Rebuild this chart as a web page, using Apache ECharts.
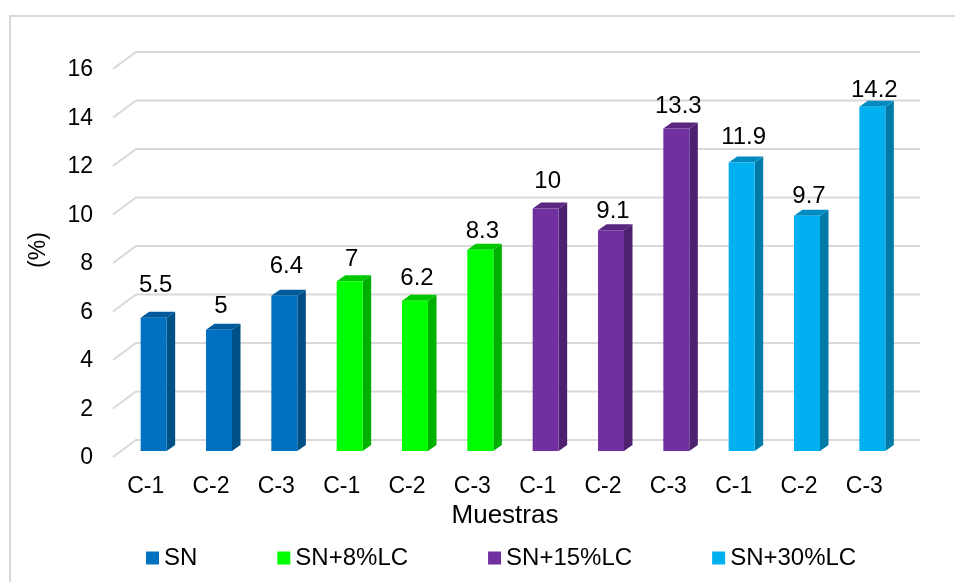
<!DOCTYPE html>
<html>
<head>
<meta charset="utf-8">
<style>html,body{margin:0;padding:0;background:#fff}#chart{width:955px;height:582px}</style>
<script src="https://cdn.jsdelivr.net/npm/echarts@6/dist/echarts.min.js"></script>
</head>
<body>
<div id="chart"></div>
<script>
// Sample labels along the horizontal axis and the ticks of the vertical axis
const categories = ['C-1','C-2','C-3','C-1','C-2','C-3','C-1','C-2','C-3','C-1','C-2','C-3'];
const yTicks = [0,2,4,6,8,10,12,14,16];

// Measured percentages per mixture
const snValues = [5.5,5,6.4];
const sn8Values = [7,6.2,8.3];
const sn15Values = [10,9.1,13.3];
const sn30Values = [11.9,9.7,14.2];

// Height of each value label above its bar's front face, in px
const labelLift = [32,23,29,22,22,18,27,19,22,25,19,16];

const FONT = '"Liberation Sans", Arial, sans-serif';
const TICK_SIZE = 23;
const TEXT_SIZE = 24;
const GRID_COLOR = '#D9D9D9';
const WALL = {dx: 23, dy: -17};    // depth of the chart floor
const BAR_START = {dx: 8, dy: -6}; // where bars sit on the floor
const BAR_DEPTH = {dx: 8.5, dy: -6};
const BAR_WIDTH = 26;

// Grid lines: a diagonal on the side wall, then the run along the back wall
function renderWall(params, api) {
  const cs = params.coordSys;
  const y = api.coord([0, api.value(1)])[1];
  const x0 = cs.x, x1 = cs.x + cs.width;
  return {
    type: 'polyline',
    shape: {points: [[x0, y], [x0 + WALL.dx, y + WALL.dy], [x1 + WALL.dx, y + WALL.dy]]},
    style: {stroke: GRID_COLOR, lineWidth: 2, fill: null},
    silent: true
  };
}

// One 3D column: front, side and top faces plus its value label
function makeBarRenderer(front, side, top) {
  return function (params, api) {
    const idx = api.value(0);
    const val = api.value(1);
    const pTop = api.coord([idx, val]);
    const pBase = api.coord([idx, 0]);
    const l = pTop[0] - BAR_WIDTH / 2 + BAR_START.dx;
    const r = l + BAR_WIDTH;
    const t = pTop[1] + BAR_START.dy;
    const b = pBase[1] + BAR_START.dy;
    const dx = BAR_DEPTH.dx, dy = BAR_DEPTH.dy;
    return {
      type: 'group',
      children: [
        {type: 'polygon', shape: {points: [[r, t], [r + dx, t + dy], [r + dx, b + dy], [r, b]]}, style: {fill: side}},
        {type: 'polygon', shape: {points: [[l, t], [l + dx, t + dy], [r + dx, t + dy], [r, t]]}, style: {fill: top}},
        {type: 'rect', shape: {x: l, y: t, width: BAR_WIDTH, height: b - t}, style: {fill: front}},
        {type: 'text', style: {
          text: String(val), x: (l + r) / 2 + 2, y: t - labelLift[idx],
          align: 'center', verticalAlign: 'middle',
          font: TEXT_SIZE + 'px ' + FONT, fill: '#000'
        }}
      ]
    };
  };
}

function barSeries(name, values, firstIndex, front, side, top) {
  return {
    name: name,
    type: 'custom',
    coordinateSystem: 'cartesian2d',
    renderItem: makeBarRenderer(front, side, top),
    encode: {x: 0, y: 1},
    itemStyle: {color: front},
    data: values.map((v, i) => [firstIndex + i, v]),
    z: 3
  };
}

const seriesNames = ['SN','SN+8%LC','SN+15%LC','SN+30%LC'];
const chart = echarts.init(document.getElementById('chart'), null, {renderer: 'canvas'});
chart.setOption({
  animation: false,
  backgroundColor: '#fff',
  grid: {left: 113, right: 58, top: 69, bottom: 125, containLabel: false},
  xAxis: {
    type: 'category',
    data: categories,
    axisLine: {show: false},
    axisTick: {show: false},
    axisLabel: {interval: 0, margin: 18, color: '#000', fontFamily: FONT, fontSize: TICK_SIZE},
    name: 'Muestras',
    nameLocation: 'middle',
    nameGap: 46,
    nameTextStyle: {color: '#000', fontFamily: FONT, fontSize: 26}
  },
  yAxis: {
    type: 'value',
    min: 0, max: 16, interval: 2,
    axisLine: {show: false},
    axisTick: {show: false},
    splitLine: {show: false},
    axisLabel: {margin: 20, color: '#000', fontFamily: FONT, fontSize: TICK_SIZE, verticalAlign: 'top', lineHeight: 2}
  },
  legend: {
    data: seriesNames,
    left: 146, top: 546, padding: 0,
    icon: 'rect',
    itemWidth: 13, itemHeight: 13, itemGap: 80,
    textStyle: {color: '#000', fontFamily: FONT, fontSize: TEXT_SIZE},
    selectedMode: false
  },
  graphic: [
    {type: 'polyline', silent: true, shape: {points: [[10, 582], [10, 16], [955, 16]]},
     style: {stroke: GRID_COLOR, lineWidth: 2, fill: null}},
    {type: 'text', silent: true, x: 39, y: 250, rotation: Math.PI / 2,
     style: {text: '(%)', align: 'center', verticalAlign: 'middle', font: TICK_SIZE + 'px ' + FONT, fill: '#000'}}
  ],
  series: [
    {
      name: 'walls',
      type: 'custom',
      coordinateSystem: 'cartesian2d',
      renderItem: renderWall,
      encode: {x: 0, y: 1},
      data: yTicks.map(v => [0, v]),
      z: 1,
      silent: true
    },
    barSeries('SN', snValues, 0, '#0070C0', '#004F85', '#005A9B'),
    barSeries('SN+8%LC', sn8Values, 3, '#00FF00', '#00B000', '#00C800'),
    barSeries('SN+15%LC', sn15Values, 6, '#7030A0', '#4E2170', '#5A2680'),
    barSeries('SN+30%LC', sn30Values, 9, '#00B0F0', '#007BA8', '#008CC0')
  ]
});
</script>
</body>
</html>
